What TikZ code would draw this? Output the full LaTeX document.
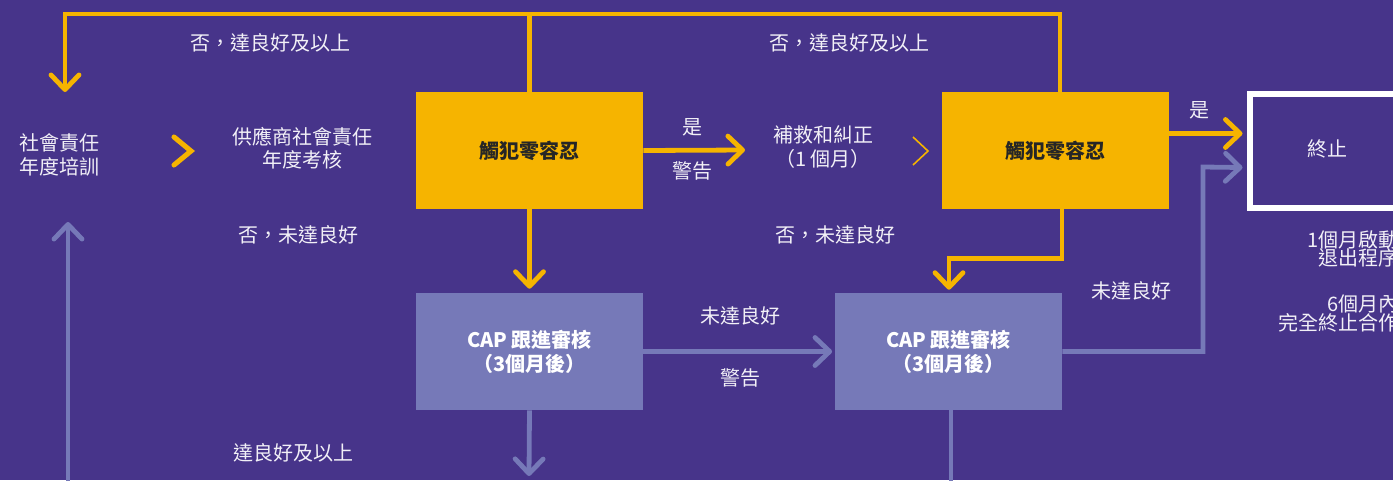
\documentclass[tikz,border=0pt]{standalone}
\usepackage{fontspec}
\setmainfont{Noto Sans CJK TC}
\usetikzlibrary{arrows.meta,calc}
\definecolor{bgp}{HTML}{47348A}
\definecolor{yel}{HTML}{F6B400}
\definecolor{lav}{HTML}{7679B8}
\definecolor{txt}{HTML}{F2F0F7}
\definecolor{dark}{HTML}{262626}
\begin{document}
\begin{tikzpicture}[x=0.75pt,y=-0.75pt,
  every node/.style={font=\fontsize{15}{17.5}\selectfont},
  lbl/.style={text=txt,align=center,inner sep=0pt},
  ybox/.style={fill=yel,minimum width=170.25pt,minimum height=87.75pt,inner sep=0pt,text=dark,font=\fontsize{15}{17.5}\selectfont\bfseries},
  cbox/.style={fill=lav,minimum width=170.25pt,minimum height=87.75pt,inner sep=0pt,text=white,align=center,font=\fontsize{15}{18}\selectfont\bfseries},
  yl/.style={draw=yel,line width=3.6pt,line join=miter},
  ll/.style={draw=lav,line width=3.6pt,line join=miter},
  tip/.style={-{Straight Barb[round,length=11pt,width=21pt]}}
]
\useasboundingbox (0,0) rectangle (1393,480);
\clip (0,0) rectangle (1393,480);
\fill[bgp] (0,0) rectangle (1393,480);

% nodes
\node[lbl] (train) at (60,155) {社會責任\\年度培訓};
\node[lbl] (annual) at (302,148) {供應商社會責任\\年度考核};
\node[ybox] (y1) at (529.5,150.5) {觸犯零容忍};
\node[ybox] (y2) at (1055,150.5) {觸犯零容忍};
\node[lbl] (remedy) at (823,147) {補救和糾正\\（1 個月）};
\node[cbox] (c1) at (529.5,351.5) {CAP 跟進審核\\（3個月後）};
\node[cbox] (c2) at (948.5,351.5) {CAP 跟進審核\\（3個月後）};
\node[draw=white,line width=4.5pt,outer sep=0pt,minimum width=130pt,minimum height=85.5pt,anchor=west,inner sep=0pt,text=txt] (term) at (1249.5,150.5) {};
\node[text=txt,inner sep=0pt] (termt) at (1327,149) {終止};
\node[lbl,align=right,anchor=north east,font=\fontsize{15}{14}\selectfont] (exit1) at (1399,230) {1個月啟動\\退出程序};
\node[lbl,align=right,anchor=north east,font=\fontsize{15}{14}\selectfont] (exit2) at (1399,295) {6個月內\\完全終止合作};

% labels
\node[lbl] (l1) at (270,43) {否，達良好及以上};
\node[lbl] (l2) at (849,43) {否，達良好及以上};
\node[lbl] (l3) at (298,235) {否，未達良好};
\node[lbl] (l4) at (835,235) {否，未達良好};
\node[lbl] (l5) at (692,127) {是};
\node[lbl] (l6) at (692,171) {警告};
\node[lbl] (l7) at (1199,110) {是};
\node[lbl] (l8) at (1131,291) {未達良好};
\node[lbl] (l9) at (740,316) {未達良好};
\node[lbl] (l10) at (740,378) {警告};
\node[lbl] (l11) at (293,453) {達良好及以上};

% coordinates
\coordinate (top) at (65,14);
\coordinate (trainin) at (65,92);
\coordinate (remin) at (745,150);
\coordinate (c1out) at (529,476);
\coordinate (c2out) at (951,482);
\coordinate (upstart) at (68,482);
\coordinate (upend) at (68,222);

% chevrons
\draw[yel,line width=3.8pt,line cap=round,line join=miter] (174,137) -- (191,151) -- (174,165);
\draw[yel,line width=1.2pt] (913,137) -- (928,151) -- (913,165);

% top loop
\draw[yl,tip] (y2.north -| 1060,0) |- (top) -- (trainin);
\draw[yl] (y1.north) -- (y1.north |- top);

% yellow arrows
\draw[yl,tip] (y1.east) -- (remin);
\draw[yl,tip,shorten >=3pt] (y1.south) -- (c1.north);
\draw[yl,tip] ($(y2.south)+(7,0)$) -- ++(0,49) -| ($(c2.north)+(0.5,-3)$);
\draw[yl,tip] ($(y2.east)+(0,-17)$) -- ($(term.west)+(-7,-17)$);

% lavender arrows
\draw[ll,tip,shorten >=2pt] (c1.east) -- (c2.west);
\draw[ll,tip] (c2.east) -| (1203,167) -- ($(term.west)+(-7,17)$);
\draw[ll,tip] (c1.south) -- (c1out);
\draw[ll] (c2.south -| c2out) -- (c2out);
\draw[ll,tip] (upstart) -- (upend);
\end{tikzpicture}
\end{document}
